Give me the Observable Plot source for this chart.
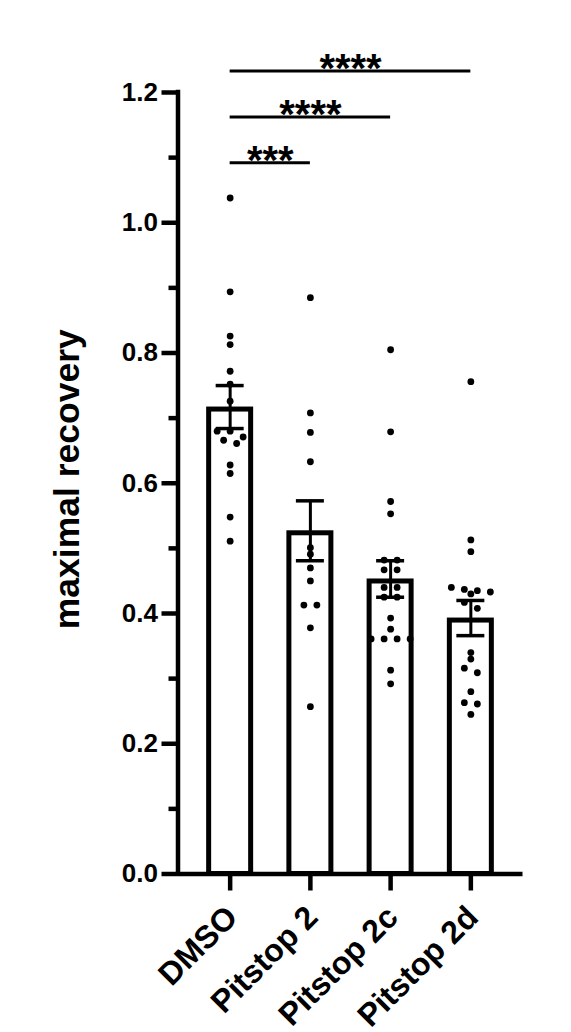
<!DOCTYPE html>
<html>
<head>
<meta charset="utf-8">
<script src="https://cdn.jsdelivr.net/npm/d3@7"></script>
<script src="https://cdn.jsdelivr.net/npm/@observablehq/plot@0.6"></script>
<style>
  html, body { margin: 0; padding: 0; background: #fff; }
  #chart svg { display: block; }
</style>
</head>
<body>
<div id="chart"></div>
<script>
// ---- data ----
const categories = ["DMSO", "Pitstop 2", "Pitstop 2c", "Pitstop 2d"];
const dmso = [1.038, 0.894, 0.826, 0.813, 0.772, 0.752, 0.726, 0.680, 0.680, 0.671, 0.666, 0.661, 0.628, 0.615, 0.548, 0.511];
const pitstop2 = [0.885, 0.708, 0.678, 0.633, 0.501, 0.491, 0.470, 0.450, 0.413, 0.413, 0.378, 0.257];
const pitstop2c = [0.805, 0.679, 0.572, 0.553, 0.482, 0.482, 0.467, 0.467, 0.440, 0.440, 0.425, 0.425, 0.393, 0.376, 0.361, 0.361, 0.361, 0.361, 0.313, 0.292];
const pitstop2d = [0.756, 0.513, 0.495, 0.440, 0.437, 0.435, 0.433, 0.430, 0.417, 0.408, 0.340, 0.330, 0.316, 0.309, 0.280, 0.263, 0.261, 0.245];
const means = [0.717, 0.527, 0.453, 0.393];
const sems = [0.033, 0.046, 0.028, 0.027];
const yTicks = [0, 0.2, 0.4, 0.6, 0.8, 1.0, 1.2];
const yMinorTicks = [0.1, 0.3, 0.5, 0.7, 0.9, 1.1];
const compareTo = [1, 2, 3];
const compareLabels = ["***", "****", "****"];
const yTitle = "maximal recovery";

// ---- layout ----
const W = 571, H = 1032;
const mTop = 92, mBottom = 158.5, mLeft = 177.5, mRight = 48.5;
const xDomain = [-0.65, 3.65], yDomain = [0, 1.2];
const pxX = (W - mLeft - mRight) / (xDomain[1] - xDomain[0]);
const pxY = (H - mTop - mBottom) / (yDomain[1] - yDomain[0]);
const barHalf = 23.5 / pxX, capHalf = 14 / pxX;
const sigBase = 1.092, sigStep = 0.0705;

const groups = [dmso, pitstop2, pitstop2c, pitstop2d];
const bars = categories.map((c, i) => ({i, name: c, mean: means[i], sem: sems[i]}));

// simple symmetric beeswarm: dots within rowGap px share a row
function swarm(values, gi, rowGap = 6, step = 13) {
  const sorted = values.slice().sort((a, b) => b - a);
  const rows = [];
  for (const v of sorted) {
    const last = rows[rows.length - 1];
    if (last && (last[0] - v) * pxY < rowGap) last.push(v); else rows.push([v]);
  }
  const out = [];
  rows.forEach(row => row.forEach((v, k) => out.push({g: gi, value: v, x: gi + (k - (row.length - 1) / 2) * step / pxX})));
  return out;
}
const dots = groups.flatMap((vals, gi) => swarm(vals, gi));
const comps = compareTo.map((t, k) => ({to: t, label: compareLabels[k], level: sigBase + k * sigStep}));
const caps = bars.flatMap(b => [{i: b.i, y: b.mean + b.sem}, {i: b.i, y: b.mean - b.sem}]);

const font = "Liberation Sans, Arial, Helvetica, sans-serif";
const chart = Plot.plot({
  width: W, height: H,
  marginTop: mTop, marginBottom: mBottom, marginLeft: mLeft, marginRight: mRight,
  x: {domain: xDomain, axis: null},
  y: {domain: yDomain, axis: null},
  style: {fontFamily: font, background: "white", overflow: "visible", color: "black"},
  marks: [
    Plot.rect(bars, {x1: d => d.i - barHalf, x2: d => d.i + barHalf, y1: 0, y2: d => d.mean,
      fill: "white", stroke: "black", strokeWidth: 5, insetTop: 2.5, insetLeft: 2.5, insetRight: 2.5}),
    Plot.ruleX(bars, {x: "i", y1: d => d.mean - d.sem, y2: d => d.mean + d.sem, stroke: "black", strokeWidth: 3}),
    Plot.ruleY(caps, {y: "y", x1: d => d.i - capHalf, x2: d => d.i + capHalf, stroke: "black", strokeWidth: 3.5}),
    Plot.dot(dots, {x: "x", y: "value", r: 3.4, fill: "black", stroke: null}),
    // axes
    Plot.ruleX([xDomain[0]], {y1: 0, y2: yDomain[1], stroke: "black", strokeWidth: 4.5, strokeLinecap: "square"}),
    Plot.ruleY([0], {x1: xDomain[0], x2: xDomain[1], stroke: "black", strokeWidth: 4.5}),
    Plot.axisY(yTicks, {tickSize: 16, tickPadding: 4, strokeWidth: 4.5, fontSize: 26, fontWeight: "bold",
      tickFormat: d => d.toFixed(1), label: null}),
    Plot.axisY(yMinorTicks, {tickSize: 9, strokeWidth: 4.5, tickFormat: () => "", label: null}),
    Plot.axisX([0, 1, 2, 3], {tickSize: 17, strokeWidth: 4.5, tickFormat: () => "", label: null}),
    Plot.text(categories, {x: (d, i) => i, y: () => 0, text: d => d, rotate: -45, textAnchor: "end", lineAnchor: "middle",
      dx: 2, dy: 38, fontSize: 32, fontWeight: "bold", fill: "black"}),
    Plot.text([yTitle], {frameAnchor: "left", rotate: -90, dx: -110, dy: -4, text: d => d, fontSize: 35.5, fontWeight: "bold",
      textAnchor: "middle", lineAnchor: "middle", fill: "black"}),
    // significance
    Plot.ruleY(comps, {y: "level", x1: 0, x2: "to", stroke: "black", strokeWidth: 3}),
    Plot.text(comps, {x: d => d.to / 2, y: "level", text: "label", fontSize: 40, fontWeight: "bold",
      textAnchor: "middle", lineAnchor: "bottom", dy: 11, fill: "black"})
  ]
});
document.getElementById("chart").append(chart);
</script>
</body>
</html>
